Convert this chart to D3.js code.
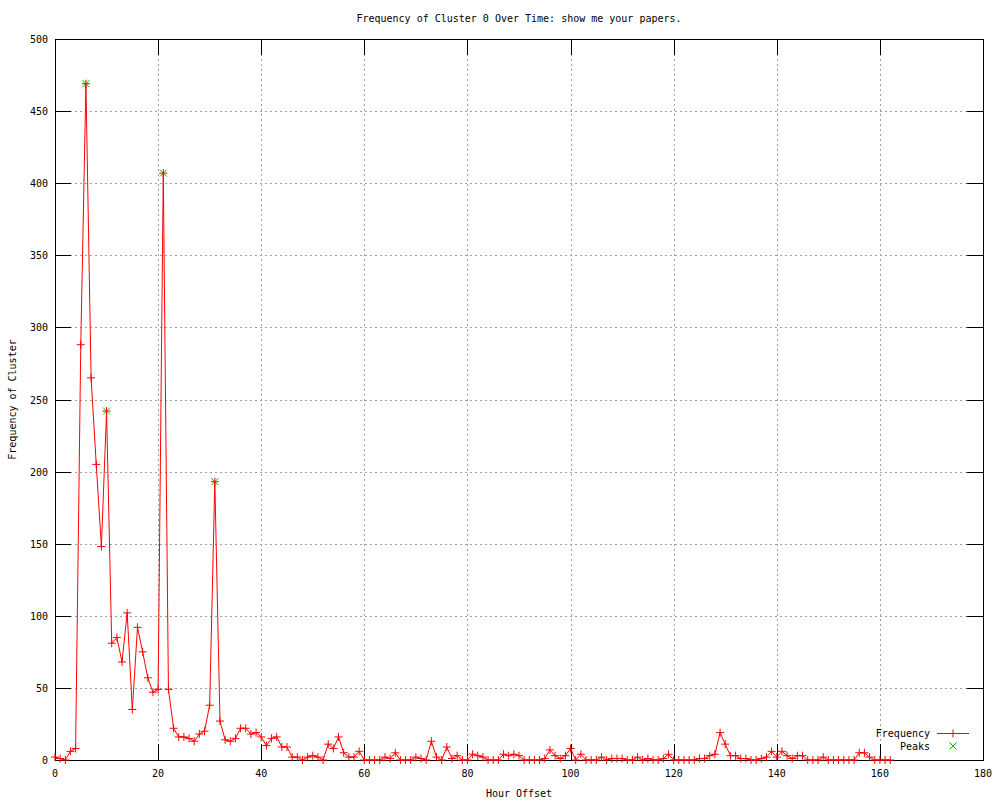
<!doctype html>
<html>
  <head>
    <meta charset="utf-8">
    <title>Frequency of Cluster 0</title>
    <script type="text/javascript" src="https://d3js.org/d3.v7.min.js"></script>
    <style>
      body { margin: 0; background: #fff; }
      text { font-family: "DejaVu Sans Mono", monospace; font-size: 10px; fill: #000; }
    </style>
  </head>
  <body>
    <script>
      // hourly counts, hour 0..162
      const frequency = [
        2, 1, 0, 6, 8, 288, 469, 265, 205, 148,
        242, 81, 85, 68, 102, 35, 92, 75, 57, 47,
        49, 407, 49, 22, 16, 16, 15, 13, 18, 20,
        38, 193, 27, 14, 13, 15, 22, 22, 18, 19,
        16, 10, 15, 16, 9, 9, 2, 2, 0, 2,
        3, 2, 0, 11, 8, 16, 5, 2, 2, 6,
        0, 0, 0, 0, 2, 1, 5, 0, 0, 0,
        2, 1, 0, 13, 2, 0, 9, 1, 3, 0,
        0, 4, 3, 2, 0, 0, 0, 4, 3, 4,
        3, 0, 0, 0, 0, 1, 7, 3, 1, 3,
        8, 0, 4, 0, 0, 0, 2, 0, 1, 1,
        1, 0, 0, 2, 0, 1, 0, 0, 1, 4,
        0, 0, 0, 0, 0, 1, 1, 3, 4, 19,
        11, 3, 3, 1, 1, 0, 0, 1, 2, 6,
        2, 6, 3, 1, 3, 3, 0, 0, 0, 2,
        0, 0, 0, 0, 0, 0, 5, 5, 2, 0,
        0, 0, 0
      ];
      const peakHours = [6, 10, 21, 31];
      const xTicks = [0, 20, 40, 60, 80, 100, 120, 140, 160, 180];
      const yTicks = [0, 50, 100, 150, 200, 250, 300, 350, 400, 450, 500];

      const width = 1000, height = 800;
      const plotL = 55, plotR = 983, plotT = 39, plotB = 760;

      const svg = d3.select('body').append('svg')
          .attr('width', width)
          .attr('height', height);

      const x = d3.scaleLinear().domain([0, 180]).range([plotL, plotR]);
      const y = d3.scaleLinear().domain([0, 500]).range([plotB, plotT]);

      const points = frequency.map((v, i) => ({ h: i, v: v }));
      const peaks = peakHours.map(h => ({ h: h, v: frequency[h] }));

      // grid
      const grid = svg.append('g')
          .attr('stroke', '#a0a0a0')
          .attr('stroke-dasharray', '2,3')
          .attr('shape-rendering', 'crispEdges');
      grid.selectAll('line.gx')
        .data(xTicks.filter(t => t > 0 && t < 180))
        .enter().append('line')
          .attr('x1', d => Math.round(x(d)) + 0.5).attr('x2', d => Math.round(x(d)) + 0.5)
          .attr('y1', plotT).attr('y2', plotB);
      grid.selectAll('line.gy')
        .data(yTicks.filter(t => t > 0 && t < 500))
        .enter().append('line')
          .attr('y1', d => Math.round(y(d)) + 0.5).attr('y2', d => Math.round(y(d)) + 0.5)
          .attr('x1', plotL).attr('x2', plotR);

      // tick marks on all four sides (inward)
      const ticks = svg.append('g').attr('stroke', '#000').attr('shape-rendering', 'crispEdges');
      const tl = 16;
      xTicks.forEach(t => {
        const px = Math.round(x(t)) + 0.5;
        ticks.append('line').attr('x1', px).attr('x2', px).attr('y1', plotB).attr('y2', plotB - tl);
        ticks.append('line').attr('x1', px).attr('x2', px).attr('y1', plotT).attr('y2', plotT + tl);
      });
      yTicks.forEach(t => {
        const py = Math.round(y(t)) + 0.5;
        ticks.append('line').attr('y1', py).attr('y2', py).attr('x1', plotL).attr('x2', plotL + tl);
        ticks.append('line').attr('y1', py).attr('y2', py).attr('x1', plotR).attr('x2', plotR - tl);
      });

      // frame
      svg.append('rect')
          .attr('x', plotL + 0.5).attr('y', plotT + 0.5)
          .attr('width', plotR - plotL).attr('height', plotB - plotT)
          .attr('fill', 'none').attr('stroke', '#000')
          .attr('shape-rendering', 'crispEdges');

      // tick labels
      svg.append('g').selectAll('text')
        .data(xTicks)
        .enter().append('text')
          .attr('x', d => x(d))
          .attr('y', plotB + 17)
          .attr('text-anchor', 'middle')
          .text(d => d);
      svg.append('g').selectAll('text')
        .data(yTicks)
        .enter().append('text')
          .attr('x', plotL - 7)
          .attr('y', d => y(d) + 4)
          .attr('text-anchor', 'end')
          .text(d => d);

      // titles
      svg.append('text')
          .attr('x', (plotL + plotR) / 2).attr('y', 22)
          .attr('text-anchor', 'middle')
          .text('Frequency of Cluster 0 Over Time: show me your papers.');
      svg.append('text')
          .attr('x', (plotL + plotR) / 2).attr('y', 797)
          .attr('text-anchor', 'middle')
          .text('Hour Offset');
      svg.append('text')
          .attr('transform', 'translate(16,' + ((plotT + plotB) / 2) + ') rotate(-90)')
          .attr('text-anchor', 'middle')
          .text('Frequency of Cluster');

      // frequency line
      const line = d3.line().x(d => x(d.h)).y(d => y(d.v));
      svg.append('path')
          .datum(points)
          .attr('d', line)
          .attr('fill', 'none')
          .attr('stroke', '#ff0000')
          .attr('stroke-width', 1);

      const plus = 'M-4,0H4M0,-4V4';
      const cross = 'M-3.5,-3.5L3.5,3.5M-3.5,3.5L3.5,-3.5';

      // peaks (drawn under the red crosses)
      svg.append('g').selectAll('path')
        .data(peaks)
        .enter().append('path')
          .attr('transform', d => 'translate(' + x(d.h) + ',' + y(d.v) + ')')
          .attr('d', cross)
          .attr('stroke', '#00c000')
          .attr('fill', 'none');

      svg.append('g').selectAll('path')
        .data(points)
        .enter().append('path')
          .attr('transform', d => 'translate(' + x(d.h) + ',' + y(d.v) + ')')
          .attr('d', plus)
          .attr('stroke', '#ff0000')
          .attr('fill', 'none');

      // legend
      const legend = svg.append('g');
      legend.append('text').attr('x', 930).attr('y', 737).attr('text-anchor', 'end').text('Frequency');
      legend.append('line').attr('x1', 937).attr('x2', 969).attr('y1', 733.5).attr('y2', 733.5)
          .attr('stroke', '#ff0000');
      legend.append('path').attr('transform', 'translate(953,733.5)').attr('d', plus)
          .attr('stroke', '#ff0000').attr('fill', 'none');
      legend.append('text').attr('x', 930).attr('y', 750).attr('text-anchor', 'end').text('Peaks');
      legend.append('path').attr('transform', 'translate(953,746)').attr('d', cross)
          .attr('stroke', '#00c000').attr('fill', 'none');
    </script>
  </body>
</html>
